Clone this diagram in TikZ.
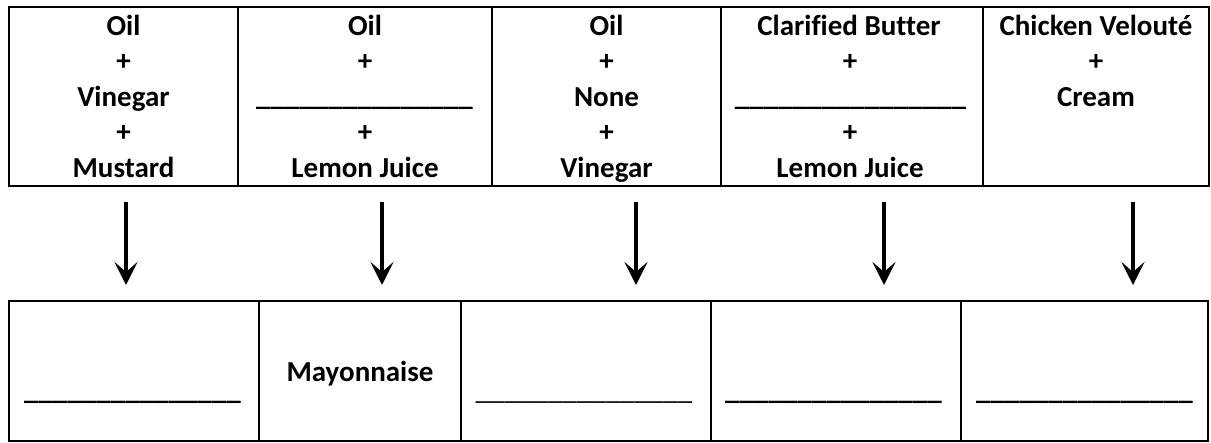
\documentclass[tikz,border=0pt]{standalone}
\usepackage{fontspec}
\setmainfont{Carlito}[Ligatures=NoCommon]
\usetikzlibrary{arrows.meta}
\begin{document}
\begin{tikzpicture}[x=1pt,y=-1pt,
  cell/.style={draw, line width=2.6pt, inner sep=0pt},
  topcell/.style={cell, minimum height=179pt},
  botcell/.style={cell, minimum height=140pt},
  txt/.style={anchor=base, inner sep=0pt, font=\fontsize{29}{33}\selectfont\bfseries},
  blank/.style={anchor=base, inner sep=0pt, font=\fontsize{29}{33}\selectfont\bfseries},
  thinblank/.style={anchor=base, inner sep=0pt, font=\fontsize{29}{33}\selectfont},
  arr/.style={line width=4.2pt, -{Stealth[length=23pt,width=23pt,inset=10pt]}}]
\useasboundingbox (0,0) rectangle (1211,443);
% top table
\node[topcell, minimum width=229pt] (t1) at (123.5,96.5) {};
\node[topcell, minimum width=254pt] (t2) at (365,96.5) {};
\node[topcell, minimum width=229pt] (t3) at (606.5,96.5) {};
\node[topcell, minimum width=262pt] (t4) at (852,96.5) {};
\node[topcell, minimum width=226pt] (t5) at (1096,96.5) {};
% column 1
\node[txt] (t1a) at (123.5,36) {Oil};
\node[txt] (t1b) at (123.5,71) {+};
\node[txt] (t1c) at (123.5,107) {Vinegar};
\node[txt] (t1d) at (123.5,142) {+};
\node[txt] (t1e) at (123.5,178) {Mustard};
% column 2
\node[txt] (t2a) at (365,36) {Oil};
\node[txt] (t2b) at (365,71) {+};
\node[blank] (t2c) at (364.5,106) {\_\_\_\_\_\_\_\_\_\_\_\_\_\_\_};
\node[txt] (t2d) at (365,142) {+};
\node[txt] (t2e) at (365,178) {Lemon Juice};
% column 3
\node[txt] (t3a) at (606.5,36) {Oil};
\node[txt] (t3b) at (606.5,71) {+};
\node[txt] (t3c) at (606.5,107) {None};
\node[txt] (t3d) at (606.5,142) {+};
\node[txt] (t3e) at (606.5,178) {Vinegar};
% column 4
\node[txt] (t4a) at (849,36) {Clarified Butter};
\node[txt] (t4b) at (850,71) {+};
\node[blank] (t4c) at (850.5,106) {\_\_\_\_\_\_\_\_\_\_\_\_\_\_\_\_};
\node[txt] (t4d) at (850,142) {+};
\node[txt] (t4e) at (850,178) {Lemon Juice};
% column 5
\node[txt] (t5a) at (1096,36) {Chicken Velouté};
\node[txt] (t5b) at (1096,71) {+};
\node[txt] (t5c) at (1096,107) {Cream};
% bottom table
\node[botcell, minimum width=250pt] (b1) at (134,371) {};
\node[botcell, minimum width=202pt] (b2) at (360,371) {};
\node[botcell, minimum width=250pt] (b3) at (586,371) {};
\node[botcell, minimum width=250pt] (b4) at (836,371) {};
\node[botcell, minimum width=247pt] (b5) at (1084.5,371) {};
\node[blank] (b1t) at (132.5,400) {\_\_\_\_\_\_\_\_\_\_\_\_\_\_\_};
\node[txt] (b2t) at (360,382) {Mayonnaise};
\node[thinblank] (b3t) at (584,400) {\_\_\_\_\_\_\_\_\_\_\_\_\_\_\_};
\node[blank] (b4t) at (833.5,400) {\_\_\_\_\_\_\_\_\_\_\_\_\_\_\_};
\node[blank] (b5t) at (1084.5,400) {\_\_\_\_\_\_\_\_\_\_\_\_\_\_\_};
% arrows
\coordinate (a1s) at (126,202);  \coordinate (a1e) at (126,285);
\coordinate (a2s) at (382,202);  \coordinate (a2e) at (382,285);
\coordinate (a3s) at (636,202);  \coordinate (a3e) at (636,285);
\coordinate (a4s) at (884,202);  \coordinate (a4e) at (884,285);
\coordinate (a5s) at (1133,202); \coordinate (a5e) at (1133,285);
\draw[arr] (a1s) -- (a1e);
\draw[arr] (a2s) -- (a2e);
\draw[arr] (a3s) -- (a3e);
\draw[arr] (a4s) -- (a4e);
\draw[arr] (a5s) -- (a5e);
\end{tikzpicture}
\end{document}
